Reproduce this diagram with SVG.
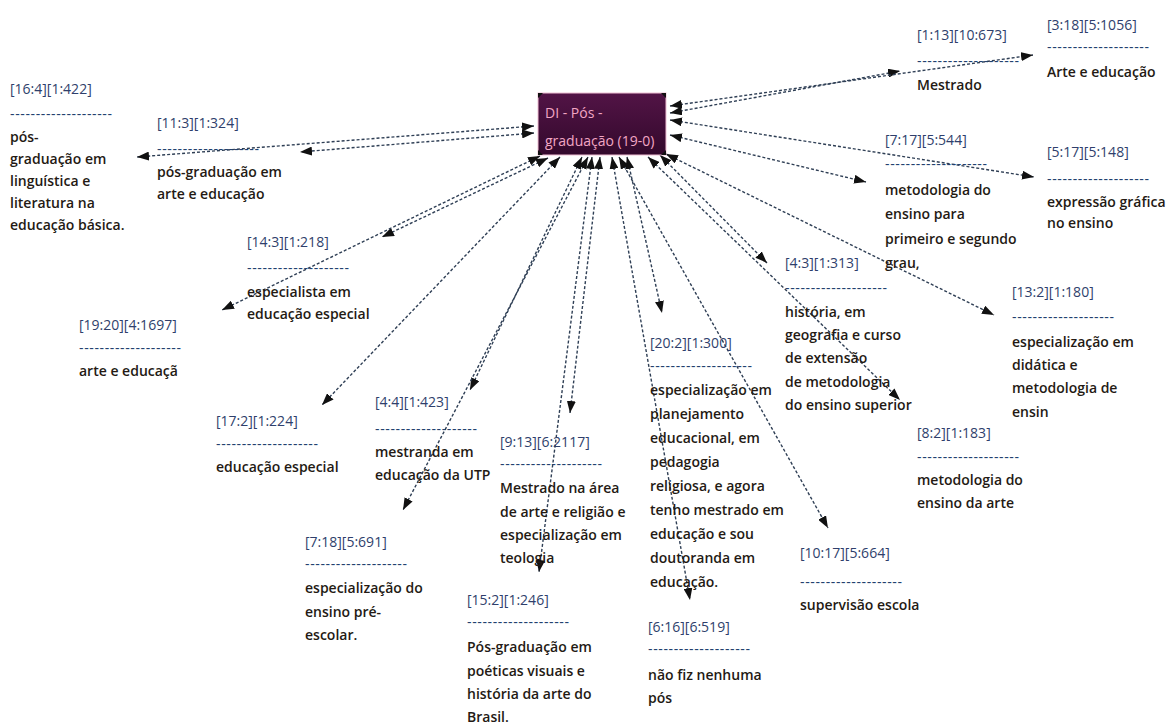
<svg xmlns="http://www.w3.org/2000/svg" width="1166" height="727" viewBox="0 0 1166 727">
  <style>
    .t { font-family: "Open Sans", "Liberation Sans", sans-serif; font-size: 14px; font-weight: 600; }
    .id { fill: #2f3f6c; font-weight: 400; }
    .dash { fill: #22406e; font-weight: 400; }
    .body { fill: #241a14; }
    .hub { font-family: "Open Sans", "Liberation Sans", sans-serif; font-size: 14px; fill: #f2a6c4; }
    .conn { fill: none; stroke: #2f3f55; stroke-width: 1.4; stroke-dasharray: 3 2; marker-start: url(#head); marker-end: url(#head); }
  </style>
  <defs>
    <marker id="head" markerUnits="userSpaceOnUse" markerWidth="12" markerHeight="9" refX="12" refY="4.5" orient="auto-start-reverse">
      <path d="M0,0 L12,4.5 L0,9 Z" fill="#111"/>
    </marker>
    <linearGradient id="hubFill" x1="0" y1="0" x2="0" y2="1">
      <stop offset="0" stop-color="#521446"/>
      <stop offset="1" stop-color="#33092c"/>
    </linearGradient>
  </defs>
  <rect width="1166" height="727" fill="#ffffff"/>

  <!-- relations from the hub to each quotation -->
  <g id="connectors">
    <line class="conn" x1="534" y1="126" x2="137" y2="157"/>
    <line class="conn" x1="534" y1="133" x2="300" y2="152"/>
    <line class="conn" x1="670" y1="113" x2="900" y2="71"/>
    <line class="conn" x1="670" y1="106" x2="1033" y2="55"/>
    <line class="conn" x1="670" y1="135" x2="866" y2="182"/>
    <line class="conn" x1="670" y1="120" x2="1034" y2="177"/>
    <line class="conn" x1="548" y1="158" x2="382" y2="237"/>
    <line class="conn" x1="540" y1="156" x2="222" y2="310"/>
    <line class="conn" x1="560" y1="157" x2="322" y2="405"/>
    <line class="conn" x1="582" y1="157" x2="470" y2="390"/>
    <line class="conn" x1="588" y1="157" x2="403" y2="510"/>
    <line class="conn" x1="600" y1="157" x2="570" y2="413"/>
    <line class="conn" x1="592" y1="157" x2="539" y2="572"/>
    <line class="conn" x1="627" y1="157" x2="662" y2="313"/>
    <line class="conn" x1="612" y1="157" x2="690" y2="600"/>
    <line class="conn" x1="619" y1="157" x2="828" y2="528"/>
    <line class="conn" x1="660" y1="155" x2="767" y2="263"/>
    <line class="conn" x1="648" y1="157" x2="900" y2="400"/>
    <line class="conn" x1="666" y1="154" x2="994" y2="315"/>
  </g>

  <!-- hub code -->
  <g id="hub">
    <rect x="538" y="93" width="128" height="62" fill="url(#hubFill)" stroke="#f0c0d4" stroke-width="1"/>
    <path d="M538,93 l5,0 l-5,5 z M666,93 l-5,0 l5,5 z M538,155 l5,0 l-5,-5 z M666,155 l-5,0 l5,-5 z" fill="#111"/>
    <text class="hub" x="545" y="118">DI - Pós -</text>
    <text class="hub" x="545" y="146">graduação (19-0)</text>
  </g>

  <g id="n16-4" class="t">
    <text class="id" x="10" y="94">[16:4][1:422]</text>
    <text class="dash" x="10" y="119" textLength="102">--------------------</text>
    <text class="body"><tspan x="10" y="142">pós-</tspan><tspan x="10" y="164">graduação em</tspan><tspan x="10" y="186">linguística e</tspan><tspan x="10" y="208">literatura na</tspan><tspan x="10" y="230">educação básica.</tspan></text>
  </g>

  <g id="n11-3" class="t">
    <text class="id" x="157" y="128">[11:3][1:324]</text>
    <text class="dash" x="157" y="154" textLength="102">--------------------</text>
    <text class="body"><tspan x="157" y="177">pós-graduação em</tspan><tspan x="157" y="199">arte e educação</tspan></text>
  </g>

  <g id="n1-13" class="t">
    <text class="id" x="917" y="40">[1:13][10:673]</text>
    <text class="dash" x="917" y="66" textLength="102">--------------------</text>
    <text class="body" x="917" y="90">Mestrado</text>
  </g>

  <g id="n3-18" class="t">
    <text class="id" x="1047" y="30">[3:18][5:1056]</text>
    <text class="dash" x="1047" y="52" textLength="102">--------------------</text>
    <text class="body" x="1047" y="77">Arte e educação</text>
  </g>

  <g id="n7-17" class="t">
    <text class="id" x="885" y="145">[7:17][5:544]</text>
    <text class="dash" x="885" y="169" textLength="102">--------------------</text>
    <text class="body"><tspan x="885" y="195">metodologia do</tspan><tspan x="885" y="219">ensino para</tspan><tspan x="885" y="244">primeiro e segundo</tspan><tspan x="885" y="268">grau,</tspan></text>
  </g>

  <g id="n5-17" class="t">
    <text class="id" x="1047" y="157">[5:17][5:148]</text>
    <text class="dash" x="1047" y="184" textLength="102">--------------------</text>
    <text class="body"><tspan x="1047" y="207">expressão gráfica</tspan><tspan x="1047" y="228">no ensino</tspan></text>
  </g>

  <g id="n14-3" class="t">
    <text class="id" x="247" y="247">[14:3][1:218]</text>
    <text class="dash" x="247" y="273" textLength="102">--------------------</text>
    <text class="body"><tspan x="247" y="297">especialista em</tspan><tspan x="247" y="319">educação especial</tspan></text>
  </g>

  <g id="n4-3" class="t">
    <text class="id" x="785" y="268">[4:3][1:313]</text>
    <text class="dash" x="785" y="293" textLength="102">--------------------</text>
    <text class="body"><tspan x="785" y="317">história, em</tspan><tspan x="785" y="340">geografia e curso</tspan><tspan x="785" y="363">de extensão</tspan><tspan x="785" y="387">de metodologia</tspan><tspan x="785" y="410">do ensino superior</tspan></text>
  </g>

  <g id="n13-2" class="t">
    <text class="id" x="1012" y="297">[13:2][1:180]</text>
    <text class="dash" x="1012" y="322" textLength="102">--------------------</text>
    <text class="body"><tspan x="1012" y="347">especialização em</tspan><tspan x="1012" y="370">didática e</tspan><tspan x="1012" y="393">metodologia de</tspan><tspan x="1012" y="417">ensin</tspan></text>
  </g>

  <g id="n19-20" class="t">
    <text class="id" x="79" y="330">[19:20][4:1697]</text>
    <text class="dash" x="79" y="353" textLength="102">--------------------</text>
    <text class="body" x="79" y="376">arte e educaçã</text>
  </g>

  <g id="n20-2" class="t">
    <text class="id" x="650" y="348">[20:2][1:300]</text>
    <text class="dash" x="650" y="371" textLength="102">--------------------</text>
    <text class="body"><tspan x="650" y="395">especialização em</tspan><tspan x="650" y="419">planejamento</tspan><tspan x="650" y="443">educacional, em</tspan><tspan x="650" y="467">pedagogia</tspan><tspan x="650" y="491">religiosa, e agora</tspan><tspan x="650" y="515">tenho mestrado em</tspan><tspan x="650" y="539">educação e sou</tspan><tspan x="650" y="563">doutoranda em</tspan><tspan x="650" y="587">educação.</tspan></text>
  </g>

  <g id="n17-2" class="t">
    <text class="id" x="216" y="426">[17:2][1:224]</text>
    <text class="dash" x="216" y="449" textLength="102">--------------------</text>
    <text class="body" x="216" y="472">educação especial</text>
  </g>

  <g id="n4-4" class="t">
    <text class="id" x="375" y="407">[4:4][1:423]</text>
    <text class="dash" x="375" y="434" textLength="102">--------------------</text>
    <text class="body"><tspan x="375" y="457">mestranda em</tspan><tspan x="375" y="480">educação da UTP</tspan></text>
  </g>

  <g id="n9-13" class="t">
    <text class="id" x="500" y="447">[9:13][6:2117]</text>
    <text class="dash" x="500" y="469" textLength="102">--------------------</text>
    <text class="body"><tspan x="500" y="493">Mestrado na área</tspan><tspan x="500" y="517">de arte e religião e</tspan><tspan x="500" y="540">especialização em</tspan><tspan x="500" y="563">teologia</tspan></text>
  </g>

  <g id="n8-2" class="t">
    <text class="id" x="917" y="438">[8:2][1:183]</text>
    <text class="dash" x="917" y="462" textLength="102">--------------------</text>
    <text class="body"><tspan x="917" y="485">metodologia do</tspan><tspan x="917" y="508">ensino da arte</tspan></text>
  </g>

  <g id="n7-18" class="t">
    <text class="id" x="305" y="547">[7:18][5:691]</text>
    <text class="dash" x="305" y="569" textLength="102">--------------------</text>
    <text class="body"><tspan x="305" y="593">especialização do</tspan><tspan x="305" y="617">ensino pré-</tspan><tspan x="305" y="640">escolar.</tspan></text>
  </g>

  <g id="n10-17" class="t">
    <text class="id" x="800" y="558">[10:17][5:664]</text>
    <text class="dash" x="800" y="587" textLength="102">--------------------</text>
    <text class="body" x="800" y="610">supervisão escola</text>
  </g>

  <g id="n15-2" class="t">
    <text class="id" x="467" y="605">[15:2][1:246]</text>
    <text class="dash" x="467" y="627" textLength="102">--------------------</text>
    <text class="body"><tspan x="467" y="652">Pós-graduação em</tspan><tspan x="467" y="676">poéticas visuais e</tspan><tspan x="467" y="699">história da arte do</tspan><tspan x="467" y="722">Brasil.</tspan></text>
  </g>

  <g id="n6-16" class="t">
    <text class="id" x="648" y="632">[6:16][6:519]</text>
    <text class="dash" x="648" y="654" textLength="102">--------------------</text>
    <text class="body"><tspan x="648" y="680">não fiz nenhuma</tspan><tspan x="648" y="703">pós</tspan></text>
  </g>
</svg>
